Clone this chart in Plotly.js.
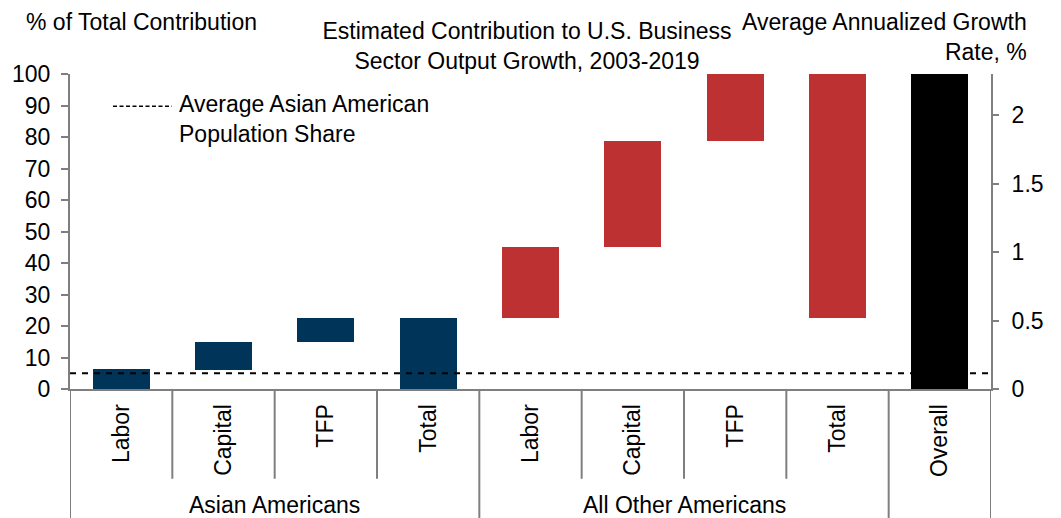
<!DOCTYPE html>
<html>
<head>
<meta charset="utf-8">
<script src="https://cdn.plot.ly/plotly-3.0.1.min.js"></script>
<style>html,body{margin:0;padding:0;background:#fff;}#chart{width:1061px;height:518px;}</style>
</head>
<body>
<div id="chart"></div>
<script>
// ---- data ----
const categories = ["Labor", "Capital", "TFP", "Total", "Labor", "Capital", "TFP", "Total", "Overall"];
const groups = ["Asian Americans", "All Other Americans"];
const barBase = [0, 6, 15, 0, 22.5, 45, 78.8, 22.5, 0];   // % of total contribution, bottom of each bar
const barTop  = [6.3, 15, 22.5, 22.5, 45, 78.8, 100, 100, 100]; // % of total contribution, top of each bar
const barGroup = ["asian", "asian", "asian", "asian", "other", "other", "other", "other", "overall"];
const asianPopShare = 5;   // average Asian American population share, %
const leftTicks = [0, 10, 20, 30, 40, 50, 60, 70, 80, 90, 100];
const rightTicks = [0, 0.5, 1, 1.5, 2];
const rightMax = 2.3;      // average annualized growth rate, % (= 100% of contribution)

const colorMap = {asian: "#003459", other: "#BE3132", overall: "#000000"};
const FONT = "Liberation Sans, Arial, sans-serif";
const FS = 23;

const xIdx = categories.map((c, i) => i);

const traces = [
  {
    type: "bar",
    x: xIdx,
    base: barBase,
    y: barTop.map((t, i) => t - barBase[i]),
    width: 0.556,
    marker: {color: barGroup.map(g => colorMap[g]), line: {width: 0}},
    hoverinfo: "skip",
    showlegend: false
  },
  {
    type: "scatter",
    mode: "lines",
    x: [-0.5, 8.5],
    y: [asianPopShare, asianPopShare],
    line: {color: "#000", width: 2, dash: "6px,6px"},
    hoverinfo: "skip",
    showlegend: false
  },
  {
    type: "scatter",
    mode: "markers",
    x: [0],
    y: [0],
    yaxis: "y2",
    marker: {opacity: 0},
    hoverinfo: "skip",
    showlegend: false
  }
];

// divider lines below the axis
const shapes = [];
const shortY = -0.285, longY = -0.42;
for (let k = 0; k <= categories.length; k++) {
  const xv = k - 0.5;
  const long = (k === 0 || k === 4 || k === 8 || k === 9);
  shapes.push({type: "line", xref: "x", yref: "paper", x0: xv, x1: xv, y0: 0, y1: long ? longY : shortY,
               line: {color: "#7f7f7f", width: 2}});
}
// legend sample line
shapes.push({type: "line", xref: "paper", yref: "paper", x0: 0.0467, x1: 0.1107, y0: 0.898, y1: 0.898,
             line: {color: "#000", width: 1.5, dash: "4px,2.5px"}});

const annotations = [
  {xref: "x", yref: "paper", x: 1.5, y: -0.368, text: groups[0], showarrow: false, xanchor: "center", yanchor: "middle",
   font: {family: FONT, size: FS, color: "#000"}},
  {xref: "x", yref: "paper", x: 5.5, y: -0.368, text: groups[1], showarrow: false, xanchor: "center", yanchor: "middle",
   font: {family: FONT, size: FS, color: "#000"}},
  {xref: "paper", yref: "paper", x: -0.05, y: 1.165, text: "% of Total Contribution", showarrow: false,
   xanchor: "left", yanchor: "middle", font: {family: FONT, size: FS, color: "#000"}},
  {xref: "paper", yref: "paper", x: 1.0416, y: 1.119, text: "Average Annualized Growth<br>Rate, %", showarrow: false,
   xanchor: "right", yanchor: "middle", align: "right", font: {family: FONT, size: FS, color: "#000"}},
  {xref: "paper", yref: "paper", x: 0.1165, y: 0.857, text: "Average Asian American<br>Population Share", showarrow: false,
   xanchor: "left", yanchor: "middle", align: "left", font: {family: FONT, size: FS, color: "#000"}}
];

const layout = {
  width: 1061,
  height: 518,
  margin: {l: 70, r: 70, t: 74, b: 129, pad: 0},
  paper_bgcolor: "#fff",
  plot_bgcolor: "#fff",
  font: {family: FONT, size: FS, color: "#000"},
  title: {
    text: "Estimated Contribution to U.S. Business<br>Sector Output Growth, 2003-2019",
    x: 0.4967, xanchor: "center", y: 0.925, yanchor: "middle",
    font: {family: FONT, size: FS, color: "#000"}
  },
  showlegend: false,
  bargap: 0,
  xaxis: {
    range: [-0.5, 8.5],
    tickvals: xIdx,
    ticktext: categories,
    tickangle: -90,
    ticks: "outside",
    ticklen: 4,
    tickcolor: "rgba(0,0,0,0)",
    showgrid: false,
    zeroline: false,
    showline: true,
    linecolor: "#7f7f7f",
    linewidth: 2,
    tickfont: {family: FONT, size: FS, color: "#000"},
    fixedrange: true
  },
  yaxis: {
    range: [0, 100],
    tickvals: leftTicks,
    ticks: "outside",
    ticklen: 7,
    tickwidth: 2,
    tickcolor: "#7f7f7f",
    ticklabelstandoff: 6,
    showgrid: false,
    zeroline: false,
    showline: true,
    linecolor: "#7f7f7f",
    linewidth: 2,
    tickfont: {family: FONT, size: FS, color: "#000"},
    fixedrange: true
  },
  yaxis2: {
    overlaying: "y",
    side: "right",
    range: [0, rightMax],
    tickvals: rightTicks,
    ticktext: rightTicks.map(String),
    ticks: "outside",
    ticklen: 6,
    tickwidth: 2,
    tickcolor: "#7f7f7f",
    ticklabelstandoff: 8,
    showgrid: false,
    zeroline: false,
    showline: true,
    linecolor: "#7f7f7f",
    linewidth: 2,
    tickfont: {family: FONT, size: FS, color: "#000"},
    fixedrange: true
  },
  shapes: shapes,
  annotations: annotations
};

Plotly.newPlot("chart", traces, layout, {staticPlot: true, displayModeBar: false});
</script>
</body>
</html>
